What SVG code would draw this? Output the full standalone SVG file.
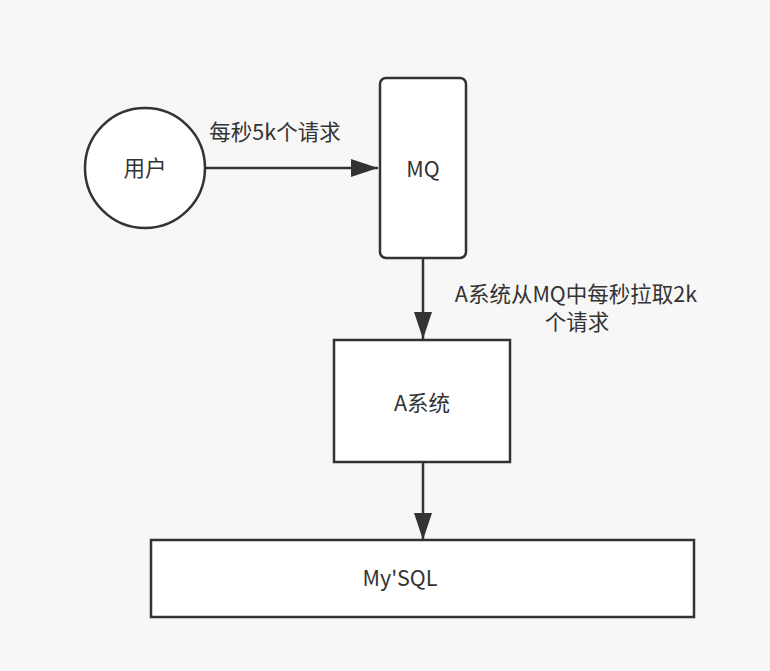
<svg xmlns="http://www.w3.org/2000/svg" width="770" height="671" viewBox="0 0 770 671">
<style>
.n{fill:#fff;stroke:#333;stroke-width:2.5}
.t{font-family:"Noto Sans CJK SC","Noto Sans",sans-serif;font-size:21.5px;fill:#333}
.c{stroke:#333;stroke-width:2.5;fill:none}
</style>
<defs>
<marker id="ah" markerUnits="userSpaceOnUse" markerWidth="30" markerHeight="20" refX="27" refY="9" orient="auto" viewBox="0 0 30 18">
<path d="M0,0 L27,9 L0,18 Z" fill="#333"/>
</marker>
</defs>
<rect width="770" height="671" fill="#f7f7f7"/>
<g id="user"><circle class="n" cx="145" cy="168" r="60"/><text class="t" x="145" y="176" text-anchor="middle">用户</text></g>
<g id="mq"><rect class="n" x="380" y="78" width="86" height="180" rx="6"/><text class="t" x="423" y="177" text-anchor="middle">MQ</text></g>
<g id="asys"><rect class="n" x="334" y="340" width="176" height="122"/><text class="t" x="422" y="411" text-anchor="middle">A系统</text></g>
<g id="mysql"><rect class="n" x="151" y="540" width="543" height="77"/><text class="t" x="400" y="586" text-anchor="middle">My'SQL</text></g>
<g id="connectors">
<line class="c" x1="206" y1="168" x2="378" y2="168" marker-end="url(#ah)"/>
<line class="c" x1="423" y1="258" x2="423" y2="339" marker-end="url(#ah)"/>
<line class="c" x1="423" y1="462" x2="423" y2="540" marker-end="url(#ah)"/>
<text class="t" x="275" y="140" text-anchor="middle">每秒5k个请求</text>
<text class="t" x="576" y="302" text-anchor="middle">A系统从MQ中每秒拉取2k</text>
<text class="t" x="577" y="330" text-anchor="middle">个请求</text>
</g>
</svg>
